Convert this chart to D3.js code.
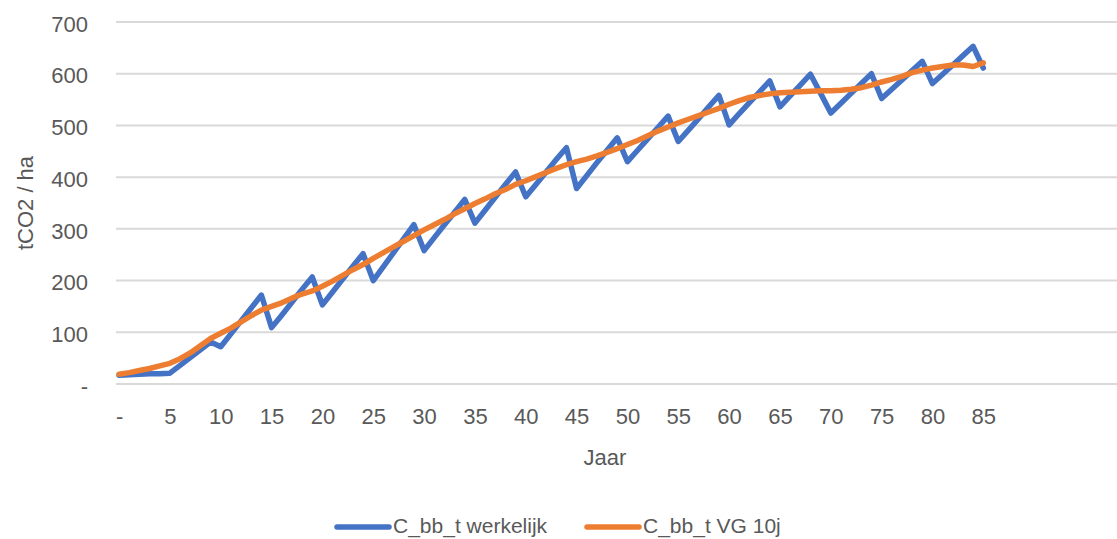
<!DOCTYPE html>
<html>
<head>
<meta charset="utf-8">
<script src="https://cdn.jsdelivr.net/npm/d3@7"></script>
<style>
    body { margin: 0; background: #fff; }
    svg { display: block; font-family: "Liberation Sans", Arial, sans-serif; }
    .tick_label, .axis_title, .legend_label { fill: #595959; }
</style>
</head>
<body>
<main></main>
<script>
'use strict';

// years 0..85 (Excel category axis, labels every 5 years)
var years = d3.range(0, 86);
var tick_years = [0, 5, 10, 15, 20, 25, 30, 35, 40, 45, 50, 55, 60, 65, 70, 75, 80, 85];
var y_ticks = [0, 100, 200, 300, 400, 500, 600, 700];

var werkelijk = [
    17, 18, 19, 20, 20, 21, 36, 51, 66, 81,
    72, 97, 122, 147, 172, 109, 133, 158, 183, 207,
    153, 178, 203, 228, 252, 200, 227, 254, 281, 308,
    258, 283, 308, 332, 357, 311, 336, 361, 386, 410,
    362, 386, 410, 434, 457, 378, 403, 428, 452, 476,
    430, 452, 474, 496, 518, 469, 491, 513, 536, 558,
    501, 523, 544, 565, 586, 536, 557, 578, 599, 562,
    524, 543, 562, 581, 600, 552, 570, 588, 606, 624,
    581, 599, 617, 635, 653, 611
];
var vg10j = [
    19, 22, 26, 30, 35, 40, 49, 60, 74, 88,
    98, 108, 120, 132, 143, 150, 157, 166, 174, 180,
    189, 199, 210, 221, 231, 243, 254, 265, 276, 287,
    298, 308, 318, 329, 339, 349, 358, 368, 376, 386,
    393, 401, 409, 417, 424, 430, 435, 441, 448, 455,
    463, 471, 480, 489, 497, 505, 512, 519, 526, 533,
    541, 548, 554, 558, 561, 563, 564, 565, 566, 567,
    567, 568, 570, 573, 578, 584, 589, 595, 602, 607,
    611, 614, 617, 617, 614, 621
];

var series = [
    ['C_bb_t werkelijk', werkelijk, '#4472C4'],
    ['C_bb_t VG 10j', vg10j, '#ED7D31']
];

var width = 1117, height = 539;
var plot_left = 116, plot_right = 1117, plot_top = 22, plot_bottom = 384;

var svg = d3.select('main').append('svg')
    .attr('width', width)
    .attr('height', height);

var scale_x = d3.scaleLinear()
    .domain([-0.3, 98.15])
    .range([plot_left, plot_right]);
var scale_y = d3.scaleLinear()
    .domain([0, 700])
    .range([plot_bottom, plot_top]);

// gridlines
svg.append('g')
    .attr('class', 'grid')
    .selectAll('line')
    .data(y_ticks)
    .enter()
    .append('line')
    .attr('x1', plot_left)
    .attr('x2', plot_right)
    .attr('y1', function(d){return scale_y(d);})
    .attr('y2', function(d){return scale_y(d);})
    .attr('stroke', '#d9d9d9')
    .attr('stroke-width', 2);

// y axis labels
var axis_y = d3.axisLeft(scale_y)
    .tickValues(y_ticks)
    .tickSize(0)
    .tickPadding(0)
    .tickFormat(function(d){return d === 0 ? '-' : d;});
svg.append('g')
    .attr('transform', 'translate(88,0)')
    .call(axis_y)
    .call(function(g){g.select('.domain').remove();})
    .selectAll('text')
    .attr('class', 'tick_label')
    .attr('fill', null)
    .attr('dy', '0.42em')
    .style('font-size', '22px');

// x axis labels
var axis_x = d3.axisBottom(scale_x)
    .tickValues(tick_years)
    .tickSize(0)
    .tickPadding(0)
    .tickFormat(function(d){return d === 0 ? '-' : d;});
svg.append('g')
    .attr('transform', 'translate(0,407)')
    .call(axis_x)
    .call(function(g){g.select('.domain').remove();})
    .selectAll('text')
    .attr('class', 'tick_label')
    .attr('fill', null)
    .attr('dy', '0.75em')
    .style('font-size', '22px');

// axis titles
svg.append('text')
    .attr('class', 'axis_title')
    .attr('text-anchor', 'middle')
    .attr('x', 605)
    .attr('y', 465)
    .style('font-size', '22px')
    .text('Jaar');
svg.append('text')
    .attr('class', 'axis_title')
    .attr('text-anchor', 'middle')
    .attr('transform', 'translate(33,203) rotate(-90)')
    .style('font-size', '22px')
    .text('tCO2 / ha');

// lines
var line = d3.line()
    .x(function(d, i){return scale_x(years[i]);})
    .y(function(d){return scale_y(d);});

svg.append('g')
    .selectAll('path')
    .data(series)
    .enter()
    .append('path')
    .attr('d', function(d){return line(d[1]);})
    .attr('fill', 'none')
    .attr('stroke', function(d){return d[2];})
    .attr('stroke-width', 5.5)
    .attr('stroke-linejoin', 'round')
    .attr('stroke-linecap', 'round');

// legend
var legend_x = [335, 585];
var legend = svg.append('g')
    .selectAll('g')
    .data(series)
    .enter()
    .append('g')
    .attr('transform', function(d, i){return 'translate(' + legend_x[i] + ',527)';});
legend.append('line')
    .attr('x1', 2)
    .attr('x2', 54)
    .attr('stroke', function(d){return d[2];})
    .attr('stroke-width', 5.5)
    .attr('stroke-linecap', 'round');
legend.append('text')
    .attr('class', 'legend_label')
    .attr('x', 58)
    .attr('y', 6)
    .style('font-size', '21px')
    .text(function(d){return d[0];});
</script>
</body>
</html>
